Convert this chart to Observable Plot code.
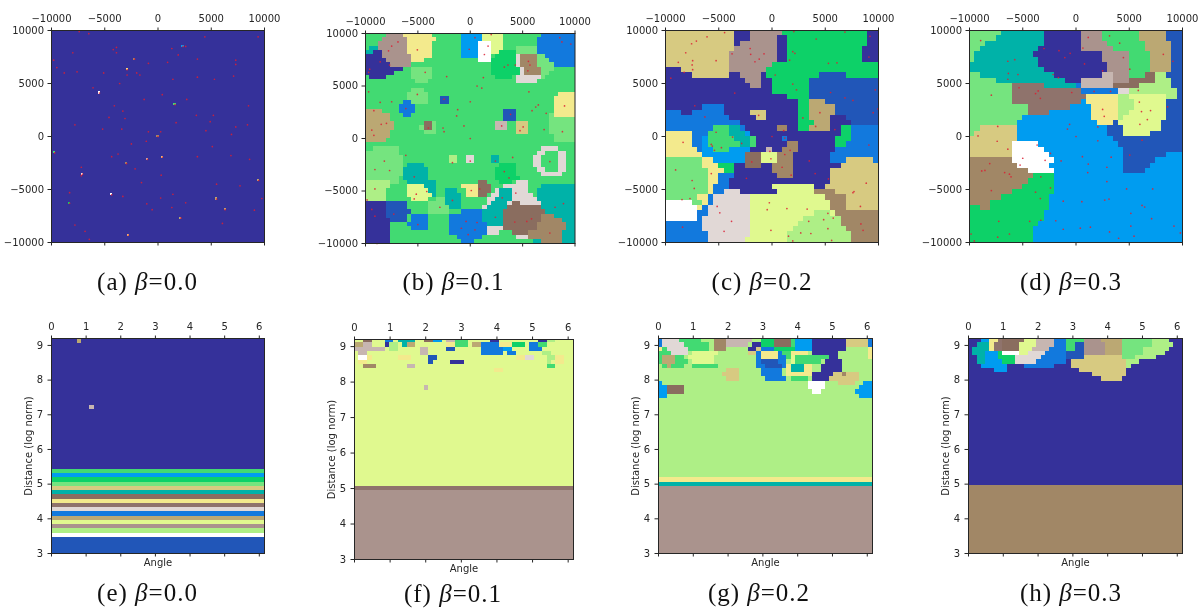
<!DOCTYPE html>
<html><head><meta charset="utf-8">
<script src="https://cdn.jsdelivr.net/npm/d3@7"></script>
<script src="https://cdn.jsdelivr.net/npm/@observablehq/plot@0.6"></script>
<style>
html,body{margin:0;padding:0;background:#fff}
#chart{position:relative;width:1204px;height:609px;overflow:hidden;filter:blur(0.35px)}
#chart svg{position:absolute;background:transparent;overflow:visible}
.cap{position:absolute;width:200px;text-align:center;font:25px/30px "Liberation Serif",serif;color:#111;letter-spacing:1px;white-space:nowrap}
</style></head><body><div id="chart"></div>
<script>
const classKeys="ABCDEFGHIJKLMNOPQRSW".split("");
const classColors=["#35319a","#2156b8","#1279dd","#009cf0","#00b2a8","#0dd168","#42da72","#75e47f","#aeef86","#e0f98f","#f3ea8d","#d7ca81","#bba873","#a18766","#8a6d5f","#8f736c","#aa938d","#c7b6b1","#e1d8d6","#ffffff"];

const rowsB=[
"G5Q4K7G7D5J5G9C8","G4Q6K7G6D5J5G8C9","G3Q7K6G7D4W3J3G8C9","G1E2Q7K6G7D4W3J3G3H5C9","E2A2Q6K6G7D4W3J2F4H5C9",
"A4Q7K5G7D4W3G1F5S1N4H2C7","A5Q6K3G13W3F6S1N4H3C6","A6Q5G19F6S1N4H4C5","A9G2H5G14F7S1N4H3G5","A7G4H5G14F7S1N4H2G6",
"G1A4G6H5G15F4G1S6H1G7","G12H3G21S5G9","G50","G11H3G36","G10H5G31K4",
"G10H5G3B2G25K5","G9C2H4G3B2G25K5","G8C4G33K5","M4G4C4G21B3G9K5","M6G3C2G22B3G8H1K5",
"M6G27B3G8H6","M7G7O2H1G14R3G2L3G5H6","M7G6H1O2H1G14R3G2L3G5H6","M6G8H3G19L3G5H6","M6G39H5",
"M5G40H5","G50","G2H6G34S4G4","H8G33S2G3S2G2","H9G11I2G2S2G4E2G8S2G4S2G2",
"H9G11I2G2S2G4E2G8S2G4S2G2","H9G1E4G18F4G4S2G4S2G2","H9E6G16F5G5S2G3S2G2","H9E6G16F5G6S5G3","H8G1E6G16F6G13",
"I6H2G2E7G10O2G3F3G1S3G11","I6G4J4E3G6K4O3G3S6G3E8","I5G5J5E2G2E3G2K3O3G1S1E3S4G2E9","I5G5J6E1G2E4G1K3O2G1S2E3S5G1E9","I5G6J4G2H2E4G6S2E4S6E9",
"A5B5G5H4E4G6S1E4S1O2S5E8","A5B5G5H5E3G5S1E5O8E8","A5B6G4H5G3C5E5O10E7","A5B5G1C4G5C8E5O9N3E5","A6B4G1C4G5C8E5O9N5E3",
"A6G4C5G5C9E4O8N7E2","A6G5C4G5C9S4O8N7E2","A6G14C9S3G3O4N8E3","A6G16C6G8S3N8E3","A6G17C3G14E2N5E3"];

const rowsC=[
"L13A3Q6F16A2","L13A3Q5A2F15A2","L13A1Q7A2F15A2","L13Q8A2F14A3","L12Q9A2F14A3",
"L12Q9A2F14A3","L12Q8F20","A3L9Q7F21","A5L7A2Q4A1F10B5F6","A15Q3A2F7B13",
"A16Q2A2F7B13","A20F7B13","A23F4B13","A25F2M3B10","A7C4A14F2M5B8",
"C3A2C6A5L3A6F2M5B8","C12A5L2A6F2M4A3B6","C14A11F3M3A4B5","C9G3E2C1A6N2A2F2M4A2F2C5","K5C3G4E3D1A17F2C5",
"K5C2D1G5E3G1A5C1A9F3C5","K5C2D1G6E2G1A6N2A7F2C6","K6C1D2G3D4A3R1A2N3A7C8","K7D8O3J3N3A7C9","H7K2D6O3J3N3A7C3L5C1",
"H7K3F3A2O3A2N4A9L7","H8K3F2A7N4A7L9","H8K2C3A8N3A7L9","H8K2C2A19L9","H8K1C3A8J8A2L10",
"H8K1C2S3A7J7N4L8","H6K2C1S7J14N4L6","W5H2K1C1S7J15N3L6","W6K1C1S8J15N3L6","W6C2S8J12I3J1N8",
"W6C1S9J10I7N7","C7S9J9I8N7","C7S9J8I10N6","C8S8J7I12N5","C8S7J8I12N5"];

const rowsD=[
"H6E8A7Q4G7M5B3","H5E9A7Q4G7M5B3","H3E11A7Q5G7M5B2","H2E11A8Q6G6M5B2","H1E11A13Q5G4M4B2",
"H1E12A12Q5G4M4B2","E13A13Q4G4M4B2","E14A12Q4G4M4B2","H2E14A9R2Q3G3O2I2B3","H5E13A3R6Q3O5I3B2",
"H8P6E6C1R6O5I6B2","H8P13C7S2I9B1","H8P14K6I2J7I2B1","H8P13D1K6I3J6B3","H11P8D4K5I3J6B3",
"H11P4D8K5I2J7B3","H10D13K5I1J8B3","H9D15K3B1J8B4","H2L7D17B3J7B4","H1L8D17B3J5B6",
"L9D18B13","L8W5D15B12","L8W6D15B11","L8W7D14B8D3","N8W8D13B6D5",
"N9W6D14B5D6","N11W5D13B4D7","N12F4D24","N11F5D24","N10F6D24",
"N8F8D24","N6F9D25","N4F11D25","F2N2F11D25","F14D26",
"F14D26","F13D27","F12D28","F12D28","F12D28"];

const spotsA=[[-5.5,4.1,"W"],[-2.9,6.3,"K"],[-2.2,7.3,"N"],[1.6,3,"G"],[-9.7,-1.55,"G"],[-8.3,-6.3,"F"],[-7.1,-3.55,"W"],[-4.35,-5.5,"W"],[-1,-2.15,"R"],[0.4,-1.95,"K"],[-2.95,-2.55,"N"],[0,0,"N"],[2.35,8.5,"D"],[-2.8,-9.3,"K"],[2.15,-7.7,"M"],[6.3,-6.9,"M"],[5.5,-5.9,"M"],[9.45,-4.15,"M"]];

const pointsA=[[-7.4,9.9],[-6.5,9.7],[4.4,9.4],[9.4,9.4],[1.3,8.3],[2.6,8.5],[2.35,8.5],[-3.9,8.4],[-4.2,8.2],[-3.9,7.9],[-8,7.9],[1.9,7.7],[-9.8,7.2],[-2.2,7.3],[.9,7],[-.9,6.9],[3.7,7.3],[7.3,7.2],[7.3,6.8],[-2.9,6.3],[-9.5,6.5],[-8.8,6],[-7.6,6.1],[-5.1,6],[-2,6],[-1.7,5.8],[-2.9,5.8],[1.4,5.4],[3.7,5.6],[7.1,5.7],[5.3,5.4],[-3.6,5],[-6.1,4.6],[-5.5,4.1],[.4,3.95],[-1.3,3.5],[2.7,3.5],[-4.1,2.9],[1.6,3],[8.5,2.9],[-3.3,2.4],[3.6,2],[5.2,2],[-4.6,1.8],[-3.1,1.7],[4.9,1.4],[1.7,1.3],[-7.8,1.1],[8.4,1.1],[7.3,.9],[-5.2,.7],[-3.4,.7],[.25,.45],[-.9,.45],[4.5,.55],[6.9,.2],[0,0],[-1.1,-.45],[-2.5,-.7],[5.1,-.95],[-9.7,-1.55],[-4.35,-1.9],[-3.75,-1.65],[.4,-1.95],[-1,-2.15],[3.7,-1.9],[6.85,-1.8],[8.6,-2.15],[-2.95,-2.55],[-7.2,-2.9],[-2.15,-3.05],[-7.1,-3.55],[-7.2,-3.7],[.3,-3.65],[-1.55,-4.35],[5.5,-4.5],[7.7,-4.65],[9.45,-4.15],[-8.3,-5.3],[-4.35,-5.5],[-3.3,-5.65],[1.4,-5.45],[.25,-5.8],[5.5,-5.9],[9.75,-5.85],[-8.3,-6.3],[-1.05,-6.35],[2.6,-6.25],[6.3,-6.9],[-.55,-6.9],[1.3,-6.7],[9.05,-6.95],[2.15,-7.7],[6.05,-8.2],[-7.8,-8.35],[-6.85,-8.95],[-2.8,-9.3],[-6.45,-9.7]];

const pointsB=[[.45,9.6],[2,9.9],[8.55,9.6],[8.75,9.2],[9.6,9],[-6.9,9.2],[-7.5,8.8],[-7.8,8.35],[-5.05,8.45],[-.1,8.5],[1.7,8.8],[1.35,8],[-8.6,7.3],[-7.7,7],[-9.6,6.6],[-9.7,6.3],[3.25,6.8],[3.6,7],[4.3,7],[5.55,7.35],[5.7,7],[5.5,6.45],[-4.3,6.3],[-2.25,5.9],[1.25,5.8],[.65,5],[1.1,4.8],[-9.7,4.45],[-5.05,4.2],[5.6,4.45],[-2.5,3.75],[-8.6,3.45],[-7.5,3.5],[0,3.5],[6.5,3.2],[6.25,3],[9,3.1],[-6.15,2.85],[-1.2,2.75],[-9.2,2.65],[5.9,2.65],[7.25,2.4],[-1.3,2.15],[3.85,2.3],[-8.5,1.35],[-8,1.45],[-.6,1.2],[3,1.2],[5.05,1.1],[-4,1],[-2.6,1],[-9.4,.8],[-2.5,.65],[4.75,.75],[7.05,.85],[8.8,.65],[-9.2,.3],[0,0],[-6.15,-1.6],[4.05,-1.8],[7.6,-2.2],[-8.2,-2.15],[0,-2.15],[2.4,-2.15],[-1.7,-2.3],[-9.1,-2.95],[-7.7,-3.05],[3.25,-3.15],[-5.35,-3.65],[3.7,-3.75],[-9.1,-4.8],[.9,-4.8],[.1,-4.95],[-4.15,-5.05],[4.35,-5.2],[-5.15,-5.3],[-5.35,-5.75],[-9.85,-5.85],[-1.7,-5.9],[3.05,-5.65],[8.9,-6.2],[8.1,-6.55],[-2.9,-6.55],[-9.4,-6.75],[-9.1,-7.4],[-7.3,-7.2],[2.4,-7.5],[5.85,-7.65],[5.4,-7.9],[4.25,-7.95],[-.4,-7.9],[.65,-8],[-5,-8.2],[-.85,-8.55],[.45,-8.7],[-.2,-9.15],[7.6,-9],[-8.9,-10]];

const pointsC=[[-4.45,9.8],[2.05,9.9],[6.85,9.85],[-6.1,9.4],[9.2,9.45],[4.15,9.2],[-7.1,9],[-7.55,8.75],[-2.05,8.3],[1.95,8],[2.15,7.85],[-8.1,7.9],[-3.75,7.8],[-2,7.75],[-.75,7.8],[9.1,7.5],[-1.2,7.3],[-7.45,7.15],[-5.25,7.15],[-1.6,7.05],[1.65,7.2],[-8.8,7],[5.3,6.9],[6.1,6.95],[-7.5,6.75],[-7.45,6.3],[-8.25,6.05],[.3,5.8],[-9.5,5.5],[1.95,4.95],[2.3,4.4],[9.7,4.4],[5.5,4.15],[-3.5,4.1],[6.85,3.65],[7.6,3.4],[-7.25,2.9],[9.95,2.6],[9.5,2.25],[4.5,2.25],[-1.25,2],[-6.3,1.85],[2.9,1.75],[5.9,.65],[4.1,.95],[1.1,.55],[-5.25,.4],[0,0],[-3.7,-.05],[1.2,-.15],[-8.35,-.55],[-2.85,-.65],[-5.7,-.75],[-5.6,-.9],[9.1,-.8],[-4.75,-1.05],[-5.4,-1.3],[1.7,-1.3],[-.2,-1.4],[1.2,-1.7],[-.1,-2.1],[3.5,-2.3],[-1.9,-2.4],[.95,-2.9],[-9.05,-3.15],[-5.7,-3.5],[4.05,-3.5],[1.8,-3.65],[-2.4,-3.95],[5.3,-4],[-7.5,-4.15],[8.85,-4.4],[-7.3,-4.9],[7.7,-5.2],[7.6,-5.3],[-8.45,-5.95],[-7.7,-5.85],[-.25,-6.25],[-5.15,-6.6],[8.3,-6.6],[1.4,-6.8],[3.3,-6.85],[-.45,-6.9],[5.25,-7.25],[-4.9,-7.2],[5.75,-7.7],[4.85,-7.85],[3.45,-8],[-3.8,-8],[8.35,-8.25],[-8.4,-8.55],[5.25,-8.7],[8.55,-8.85],[-.1,-8.85],[-4.5,-8.95],[2.7,-9.1],[3.65,-9.15],[1.55,-9.4],[5.6,-9.8],[1.95,-9.85]];

const pointsD=[[-8.95,9.05],[1.15,9.35],[3.15,9.5],[.65,8.35],[4.1,8.8],[-3,8.3],[-1.6,8.1],[-.55,7.85],[-1.05,7.45],[8.2,7.75],[4.45,7.45],[-6.4,7.1],[-5.75,7.25],[9.1,7.1],[.8,6.85],[5.05,6.35],[2.5,6.2],[-6.35,5.95],[-5.45,5.85],[-2.15,5.85],[-1.65,5.55],[-6.4,5.4],[-5.35,4.6],[-3.55,4.3],[-3.8,4.05],[-.4,4.15],[1.7,4.25],[3.25,4.25],[5.85,4.35],[-7.95,3.9],[-3.35,3.6],[5.95,3.25],[8.6,2.8],[2.5,2.55],[6.15,2.35],[7,2.45],[2.65,1.9],[6.7,1.6],[6,1.15],[-.6,1.15],[-7.35,.95],[2.05,.9],[-.8,.7],[-9.2,.05],[0,0],[-7.4,-.45],[6.2,-.35],[2.05,-.4],[-3.65,-.8],[-6.4,-1.2],[-2.4,-1.6],[5.05,-1.75],[.6,-1.9],[3.3,-1.95],[-5,-2.05],[-2.9,-2.25],[-1.4,-2.3],[-8.1,-2.55],[1.15,-2.6],[-5.25,-2.7],[2.9,-2.9],[-8.85,-3.25],[-8.55,-3.2],[-6.7,-3.4],[1.1,-3.4],[-6.25,-3.55],[-6.1,-3.8],[-3.3,-3.8],[2.9,-4.25],[-2.4,-4.85],[4.75,-4.95],[7.2,-4.95],[-7.95,-5.1],[-3.8,-5.25],[-3.35,-5.85],[3.1,-5.9],[2.7,-6],[-1.2,-6.1],[.55,-6.15],[6.2,-6.5],[6.45,-6.65],[5.15,-7.25],[7.1,-7.75],[-7.25,-8],[-4.35,-8],[-3.3,-7.9],[-1.9,-7.95],[9.2,-8.45],[5.15,-8.45],[-1.2,-8.75],[.4,-8.65],[1.35,-8.55],[3.15,-9],[9.8,-9.1],[-9.85,-9.2],[-6.25,-9.2],[-7.35,-9.5],[5.45,-9.4],[4,-9.6],[-9.55,-9.85]];

const edgesE=[9.2,5.42,5.30,5.18,5.05,4.93,4.81,4.69,4.56,4.44,4.32,4.20,4.08,3.96,3.84,3.71,3.59,3.47,3.0];
const bandsE=["A","G","D","F","H","L","E","O","K","P","S","C","M","J","Q","I","W","B"];
const spotsE=[[0.8,9.13,"M"],[1.17,7.2,"R"]];
const edgesF=[9.2,5.06,4.95,3.0];const bandsF=["J","P","Q"];
const edgesG=[9.2,5.18,5.05,4.94,3.0];const bandsG=["I","K","E","Q"];
const edgesH=[9.2,4.95,3.0];const bandsH=["A","N"];

const rowsF=[
"J2O2J3C2J1E4J2O2D2J1R2G3J5A2J9A2I2J4",
"M2R2J3A1I2J1E1M2J7K2G3J1M2C4K3F3J1C2G2J6",
"R7J1I2J5R2J4B2J6C5D2J4C3J7",
"J1R2J12R2J12C5J1C2J6I2J5",
"J1W2K1J6K3J4B2J18K2S2J3I2K2J2",
"J1K2J14B1J4A3J19I1J1K2J2",
"J2N3J7R2J30G2J4",
"J32K2J16","J50","J50","J50",
"J16R1J33"];
const rowsG=[
"C1S4G5I3N3R6I2F3O4G1D4A8L5C1",
"C1S5G6I1N3R5I1A2F3O4G1D4A8L5C1",
"K1G1S5G5I1N3I5A2L1C3F5D4A8I5K1",
"G3S4I1J6I7L2C1K4C1G2K4I1A6I7K1",
"G1M3G2I1J6I10C1K4C2G1J1G8A2I7K1",
"G1M3G3I1J5I10C1B4C2I1J1G6I1A4I7",
"I1G1M1G3I2G6I9C2B4C1K1E3K2I2A5I7",
"I16L3I5C5I1K1E3K2I2A5I7",
"I15L4I5C5I1K6A5L2N1L3I3",
"I16L3I6C5I1G4I1A4L7I3",
"D1I34W4I3L4I2D2",
"D2O4I29W4I8D3",
"D2O4I30W2I8D4",
"D2I45D3"];
const rowsH=[
"A3D2K2P1O5J3R4C3G4Q4M5H7I4A3",
"A2E3K1P2O4J4R4C3G2B2Q5M4H7I5A2",
"A1E4K1P2O4J3R4C4G2B2Q5M4H5I6A3",
"A1E3D3F1W4J2S4C5B4Q5M4H5I5A4",
"A2E2D3F4S6C6B4L9H3I5A6",
"A2E2D4F3S5C7A1L13I3A10",
"A3D6A4C7A4L13I1A12",
"A6D3A17L11A13",
"A29L8A13",
"A31L5A14"];

const xTicksTop=[-10000,-5000,0,5000,10000];
const angleTicks=[0,1,2,3,4,5,6];
const distTicks=[3,4,5,6,7,8,9];
const capA=["(a)","(b)","(c)","(d)","(e)","(f)","(g)","(h)"];
const capB=["0.0","0.1","0.2","0.3","0.0","0.1","0.2","0.3"];

function runs(row){return [...row.matchAll(/([A-Z])(\d+)/g)].map(m=>[m[1],+m[2]]);}
function gridCells(rows,lo,hi){
  const n=rows.length,s=(hi-lo)/n,out=[];
  rows.forEach((row,r)=>{let c=0;for(const [k,len] of runs(row)){out.push({k,x1:lo+c*s,x2:lo+(c+len)*s,y1:hi-(r+1)*s,y2:hi-r*s});c+=len;}});
  return out;
}
const xMax=6.15,yMax=9.2;
function topCells(rows,firstH,step){
  const s=xMax/50,out=[];
  rows.forEach((row,r)=>{let c=0;const y2=r===0?yMax:yMax-firstH-(r-1)*step,y1=yMax-firstH-r*step;
    for(const [k,len] of runs(row)){out.push({k,x1:c*s,x2:(c+len)*s,y1,y2});c+=len;}});
  return out;
}
function bandCells(edges,keys){return keys.map((k,i)=>({k,x1:0,x2:xMax,y1:edges[i+1],y2:edges[i]}));}
function spotCells(sp,m,hx,hy){return sp.map(([x,y,k])=>({k,x1:x*m-hx,x2:x*m+hx,y1:y*m-hy,y2:y*m+hy}));}
const pts=a=>a.map(([x,y])=>({x:x*1000,y:y*1000}));

const ink="#262626",tickFont={fontFamily:"DejaVu Sans",fontSize:10};
const color={domain:classKeys,range:classColors};
const rectOpts={x1:"x1",x2:"x2",y1:"y1",y2:"y2",fill:"k",shapeRendering:"crispEdges"};
const ML=60,MR=20,MT=26,MB=26;
const chart=document.getElementById("chart");

function put(px,py,pw,ph,opts){
  const svg=Plot.plot({width:pw+ML+MR,height:ph+MT+MB,marginLeft:ML,marginRight:MR,marginTop:MT,marginBottom:MB,color,style:{background:"transparent",...tickFont,color:ink},...opts});
  svg.style.left=(px-ML)+"px";svg.style.top=(py-MT)+"px";chart.appendChild(svg);
}
function mapPanel(px,py,pw,ph,cells,points){
  const fmt=d=>String(d).replace("-","\u2212");
  put(px,py,pw,ph,{
    x:{domain:[-10000,10000]},y:{domain:[-10000,10000]},
    marks:[Plot.rect(cells,rectOpts),
      Plot.dot(pts(points),{x:"x",y:"y",r:.85,fill:"#dc1e32",fillOpacity:.85,stroke:"none"}),
      Plot.frame({stroke:ink,strokeWidth:1}),
      Plot.axisX({anchor:"top",ticks:xTicksTop,tickFormat:fmt,tickSize:3.5,tickPadding:5,label:null,stroke:ink}),
      Plot.axisX({anchor:"bottom",ticks:xTicksTop,tickFormat:()=>"",tickSize:3.5,label:null,stroke:ink}),
      Plot.axisY({anchor:"left",ticks:xTicksTop,tickFormat:fmt,tickSize:3.5,tickPadding:4,label:null,stroke:ink})]
  });
}
function polarPanel(px,py,pw,ph,cells){
  put(px,py,pw,ph,{
    x:{domain:[0,xMax]},y:{domain:[3,yMax]},
    marks:[Plot.rect(cells,rectOpts),
      Plot.frame({stroke:ink,strokeWidth:1}),
      Plot.axisX({anchor:"top",ticks:angleTicks,tickFormat:d=>String(d),tickSize:3.5,tickPadding:5.5,label:null,stroke:ink}),
      Plot.axisX({anchor:"bottom",ticks:angleTicks,tickFormat:()=>"",tickSize:3.5,label:"Angle",labelAnchor:"center",labelOffset:12,labelArrow:"none",stroke:ink,fontSize:10}),
      Plot.axisY({anchor:"left",ticks:distTicks,tickFormat:d=>String(d),tickSize:3.5,tickPadding:5,label:"Distance (log norm)",labelAnchor:"center",labelOffset:27,labelArrow:"none",stroke:ink})]
  });
}
mapPanel(51,30,213,212,[{k:"A",x1:-10000,x2:10000,y1:-10000,y2:10000},...spotCells(spotsA,1000,100,100)],pointsA);
mapPanel(365,33,209.5,210,gridCells(rowsB,-10000,10000),pointsB);
mapPanel(665,30,213,212,gridCells(rowsC,-10000,10000),pointsC);
mapPanel(969,30,213,212,gridCells(rowsD,-10000,10000),pointsD);
polarPanel(51,338,213,215,[...bandCells(edgesE,bandsE),...spotCells(spotsE,1,.06,.06)]);
polarPanel(354,339,219,220,[...bandCells(edgesF,bandsF),...topCells(rowsF,.09,.122)]);
polarPanel(658,338,214,215,[...bandCells(edgesG,bandsG),...topCells(rowsG,.125,.123)]);
polarPanel(968,338,214,215,[...bandCells(edgesH,bandsH),...topCells(rowsH,.125,.123)]);

const capX=[147.5,453.5,762,1071,147.5,453,759,1071];
const capY=[282,282,282,282,593,594,593,593];
capA.forEach((t,i)=>{
  const d=document.createElement("div");d.className="cap";
  d.style.left=(capX[i]-100)+"px";d.style.top=(capY[i]-15)+"px";
  d.innerHTML=t+" <i>\u03b2</i>="+capB[i];chart.appendChild(d);
});
</script></body></html>
